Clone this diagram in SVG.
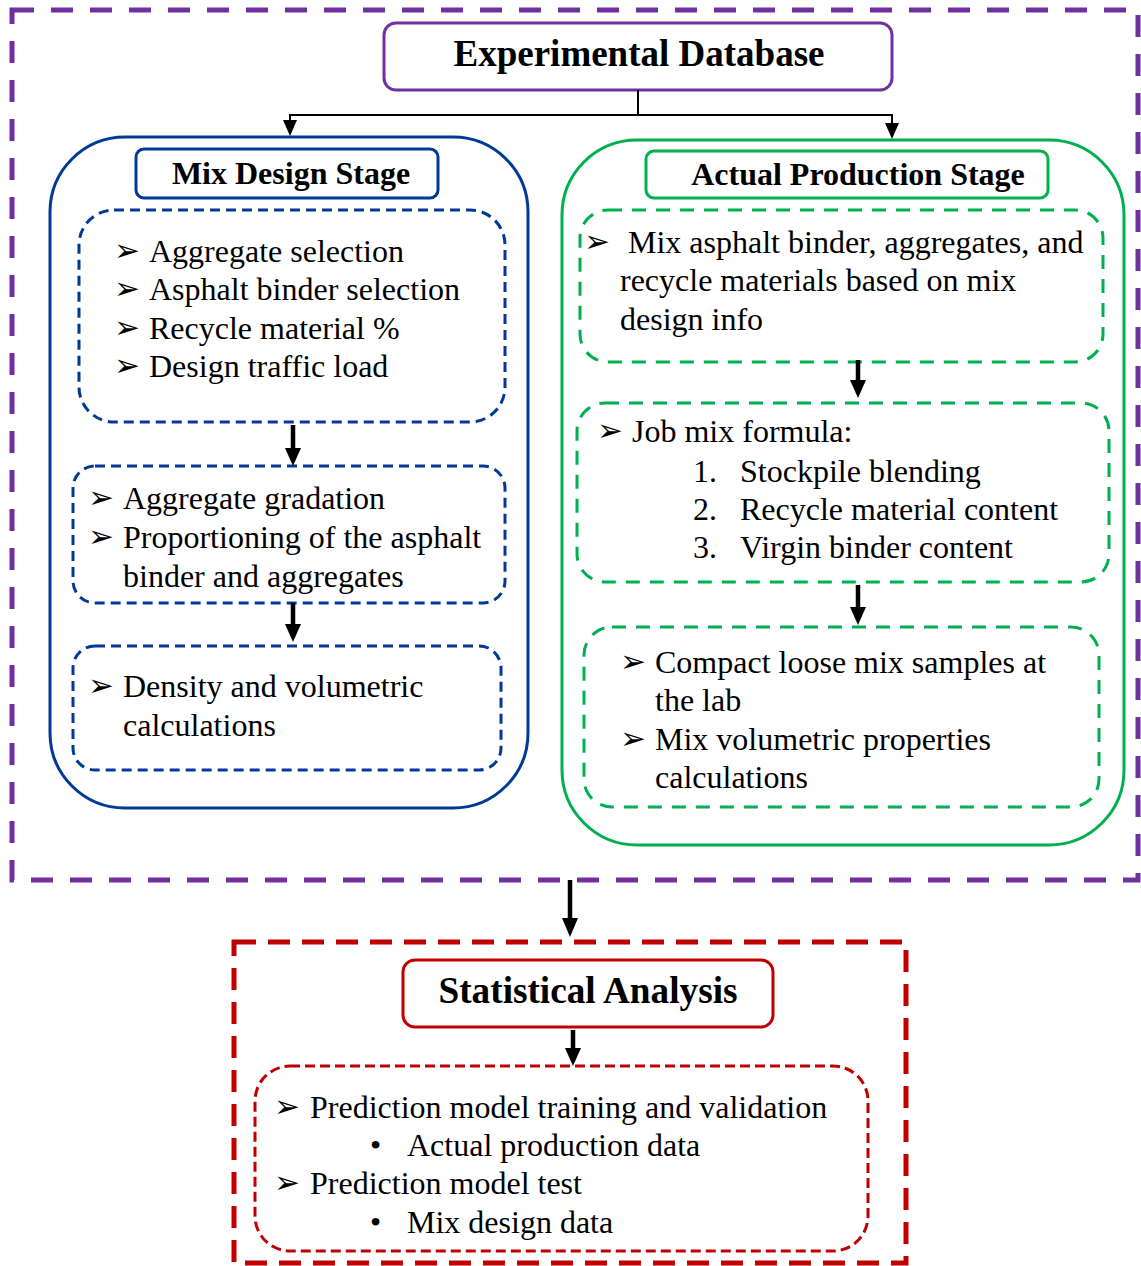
<svg xmlns="http://www.w3.org/2000/svg" width="1141" height="1266" viewBox="0 0 1141 1266">
<style>
text{font-family:"Liberation Serif","Times New Roman",serif;fill:#000}
.t{font-size:32px}
.h{font-size:37px;font-weight:bold}
.h2{font-size:32px;font-weight:bold}
.b{font-family:"DejaVu Sans",sans-serif;font-size:31px}
.blue{fill:none;stroke:#003A96;stroke-width:3}
.green{fill:none;stroke:#00B050;stroke-width:3}
.red{fill:none;stroke:#C00000;stroke-width:3}
.bd{stroke-dasharray:10 6}
.gd{stroke-dasharray:14 10}
.rd{stroke-dasharray:10 5}
.thin{stroke:#000;stroke-width:2;fill:none}
.thick{stroke:#000;stroke-width:4.5;fill:none}
</style>
<g id="outer-database">
<rect x="12" y="10" width="1126" height="870" fill="none" stroke="#7030A0" stroke-width="5" stroke-dasharray="22 17"/>
</g>
<g id="experimental-database">
<rect x="384" y="23" width="508" height="67" rx="12" fill="#fff" stroke="#7030A0" stroke-width="3"/>
<text class="h" x="639" y="66" text-anchor="middle">Experimental Database</text>
</g>
<g id="mix-design-stage">
<rect class="blue" x="50" y="137" width="478" height="671" rx="75"/>
<rect class="blue" x="136" y="149" width="302" height="49" rx="8"/>
<text class="h2" x="291" y="184" text-anchor="middle">Mix Design Stage</text>
</g>
<g id="mix-design-box1">
<rect class="blue bd" x="79" y="210" width="426" height="212" rx="35"/>
<text class="b" x="114" y="261">➢</text><text class="t" x="149" y="262">Aggregate selection</text>
<text class="b" x="114" y="299">➢</text><text class="t" x="149" y="300">Asphalt binder selection</text>
<text class="b" x="114" y="338">➢</text><text class="t" x="149" y="339">Recycle material %</text>
<text class="b" x="114" y="376">➢</text><text class="t" x="149" y="377">Design traffic load</text>
</g>
<g id="mix-design-box2">
<rect class="blue bd" x="73" y="466" width="432" height="137" rx="22"/>
<text class="b" x="88" y="508">➢</text><text class="t" x="123" y="509">Aggregate gradation</text>
<text class="b" x="88" y="547">➢</text><text class="t" x="123" y="548">Proportioning of the asphalt</text>
<text class="t" x="123" y="587">binder and aggregates</text>
</g>
<g id="mix-design-box3">
<rect class="blue bd" x="73" y="646" width="428" height="124" rx="22"/>
<text class="b" x="88" y="696">➢</text><text class="t" x="123" y="697">Density and volumetric</text>
<text class="t" x="123" y="736">calculations</text>
</g>
<g id="actual-production-stage">
<rect class="green" x="562" y="140" width="562" height="705" rx="75"/>
<rect class="green" x="646" y="151" width="402" height="47" rx="8"/>
<text class="h2" x="858" y="185" text-anchor="middle">Actual Production Stage</text>
</g>
<g id="production-box1">
<rect class="green gd" x="580" y="210" width="523" height="152" rx="28"/>
<text class="b" x="584" y="252">➢</text><text class="t" x="628" y="253">Mix asphalt binder, aggregates, and</text>
<text class="t" x="620" y="291">recycle materials based on mix</text>
<text class="t" x="620" y="330">design info</text>
</g>
<g id="production-box2">
<rect class="green gd" x="577" y="403" width="532" height="179" rx="28"/>
<text class="b" x="597" y="441">➢</text><text class="t" x="632" y="442">Job mix formula:</text>
<text class="t" x="693" y="482">1.</text><text class="t" x="740" y="482">Stockpile blending</text>
<text class="t" x="693" y="520">2.</text><text class="t" x="740" y="520">Recycle material content</text>
<text class="t" x="693" y="558">3.</text><text class="t" x="740" y="558">Virgin binder content</text>
</g>
<g id="production-box3">
<rect class="green gd" x="584" y="627" width="515" height="180" rx="28"/>
<text class="b" x="620" y="672">➢</text><text class="t" x="655" y="673">Compact loose mix samples at</text>
<text class="t" x="655" y="711">the lab</text>
<text class="b" x="620" y="749">➢</text><text class="t" x="655" y="750">Mix volumetric properties</text>
<text class="t" x="655" y="788">calculations</text>
</g>
<g id="statistical-outer">
<rect x="234" y="942" width="672" height="321" fill="none" stroke="#C00000" stroke-width="5" stroke-dasharray="22 12"/>
</g>
<g id="statistical-analysis">
<rect class="red" x="403" y="960" width="370" height="67" rx="12"/>
<text class="h" x="588" y="1003" text-anchor="middle" textLength="299" lengthAdjust="spacingAndGlyphs">Statistical Analysis</text>
</g>
<g id="statistical-box">
<rect class="red rd" x="255" y="1066" width="613" height="185" rx="35"/>
<text class="b" x="274" y="1117">➢</text><text class="t" x="310" y="1118">Prediction model training and validation</text>
<text class="t" x="370" y="1156">•</text><text class="t" x="407" y="1156">Actual production data</text>
<text class="b" x="274" y="1193">➢</text><text class="t" x="310" y="1194">Prediction model test</text>
<text class="t" x="370" y="1233">•</text><text class="t" x="407" y="1233">Mix design data</text>
</g>
<g id="connectors">
<polyline class="thin" points="638,90 638,115 290,115 290,121"/>
<polyline class="thin" points="638,115 892,115 892,124"/>
<polygon points="283,120 297,120 290,136"/>
<polygon points="885,123 899,123 892,139"/>
<line class="thick" x1="293" y1="425" x2="293" y2="450"/>
<polygon points="285,448 301,448 293,466"/>
<line class="thick" x1="293" y1="603" x2="293" y2="626"/>
<polygon points="285,624 301,624 293,642"/>
<line class="thick" x1="858" y1="360" x2="858" y2="382"/>
<polygon points="850,380 866,380 858,398"/>
<line class="thick" x1="858" y1="585" x2="858" y2="609"/>
<polygon points="850,607 866,607 858,625"/>
<line class="thick" x1="570" y1="880" x2="570" y2="920"/>
<polygon points="562,918 578,918 570,937"/>
<line class="thick" x1="573" y1="1030" x2="573" y2="1050"/>
<polygon points="565,1048 581,1048 573,1066"/>
</g>
</svg>
